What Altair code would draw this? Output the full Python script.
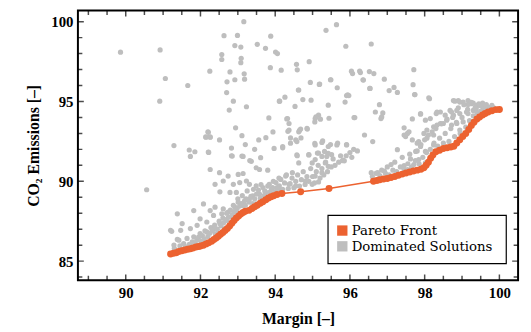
import altair as alt
import pandas as pd
import numpy as np

ORANGE = "#EC6230"
GRAY = "#BEBEBE"
FONT = "Liberation Serif"
LEG_FONT = "DejaVu Serif"

X_DOMAIN = [88.72, 100.5]
Y_DOMAIN = [83.8, 100.7]
X_TICKS = [90, 92, 94, 96, 98, 100]
Y_TICKS = [85, 90, 95, 100]

pareto_x = [91.2, 91.28, 91.35, 91.42, 91.5, 91.58, 91.66, 91.73, 91.8, 91.88, 91.95, 92.0, 92.08,
            92.15, 92.22, 92.3, 92.36, 92.42, 92.48, 92.54, 92.6, 92.66, 92.72, 92.78, 92.84, 92.9,
            92.96, 93.02, 93.08, 93.14, 93.2, 93.3, 93.38, 93.45, 93.52, 93.6, 93.67, 93.75, 93.82,
            93.89, 93.96, 94.05, 94.18, 94.68, 95.44, 96.63, 96.72, 96.8, 96.9, 97.0, 97.1, 97.2,
            97.3, 97.4, 97.5, 97.6, 97.7, 97.8, 97.9, 97.98, 98.04, 98.1, 98.16, 98.22, 98.3, 98.4,
            98.5, 98.6, 98.7, 98.78, 98.86, 98.94, 99.02, 99.1, 99.18, 99.25, 99.32, 99.4, 99.47,
            99.55, 99.62, 99.7, 99.8, 99.91, 100.0]
pareto_y = [85.45, 85.5, 85.52, 85.6, 85.65, 85.7, 85.75, 85.78, 85.82, 85.88, 85.92, 85.95, 86.0,
            86.08, 86.15, 86.25, 86.35, 86.45, 86.56, 86.68, 86.8, 86.92, 87.05, 87.2, 87.38, 87.55,
            87.7, 87.82, 87.95, 88.05, 88.12, 88.18, 88.3, 88.4, 88.5, 88.62, 88.72, 88.85, 88.95,
            89.03, 89.1, 89.18, 89.24, 89.34, 89.55, 90.0, 90.05, 90.1, 90.14, 90.18, 90.24, 90.3,
            90.38, 90.45, 90.52, 90.58, 90.64, 90.7, 90.76, 90.85, 91.0, 91.2, 91.45, 91.65, 91.85,
            91.95, 92.05, 92.1, 92.15, 92.2, 92.4, 92.6, 92.8, 93.0, 93.25, 93.5, 93.7, 93.9, 94.03,
            94.15, 94.25, 94.34, 94.42, 94.49, 94.5]

dominated_x = [
    89.86, 90.92, 91.06, 90.91, 91.29, 90.56, 91.23, 91.38, 91.66,
    93.16, 92.63, 92.99, 92.92, 93.08, 93.52, 93.74, 93.88, 94.01, 94.06, 92.57, 92.57, 93.09, 93.08,
    92.25, 92.79, 93.17, 93.18, 92.92, 92.71, 93.87, 94.16, 94.57, 94.59, 94.91, 94.94, 95.18, 95.48,
    95.66, 94.63, 92.7, 92.88, 92.77, 93.23, 94.12, 94.26, 94.74, 94.96, 94.53, 95.42, 95.94, 95.87,
    96.04, 95.89, 95.36, 95.64, 93.83, 94.31, 94.37, 95.07, 95.16, 95.44, 96.11, 92.94, 92.21, 92.14,
    92.26, 92.51, 93.11, 93.56, 93.75, 93.94, 94.34, 94.41, 94.65, 94.86, 94.69, 94.55, 95.06, 95.27,
    95.48, 95.67, 95.91, 91.7, 91.85, 92.21, 92.83, 93.2, 93.45, 93.97, 94.2, 92.85, 93.11, 93.32,
    93.61, 94.58, 94.9, 95.13, 95.42, 95.85, 95.07, 95.25, 95.32,
    96.57, 96.26, 96.52, 96.64, 96.35, 96.92, 97.71, 97.69, 96.53, 97.05, 97.18, 97.74, 98.13, 96.79,
    96.68, 96.88, 96.83, 96.13, 97.89, 97.67, 98.02, 98.15, 98.31, 98.42, 98.68, 98.77, 98.9, 99.03,
    99.16, 99.25, 99.38, 99.56, 99.69, 96.39, 96.61, 97.45, 97.58, 97.49, 97.67, 97.8, 97.89, 97.98,
    98.06, 98.24, 98.42, 98.59, 98.77, 98.94, 99.12, 99.3,
    97.27, 97.73, 98.11, 97.89, 98.33, 98.55, 98.72, 98.86, 98.81, 98.94, 99.16, 99.3, 99.47, 99.56,
    99.38, 99.16, 97.54, 97.45, 97.84, 98.06, 98.24, 98.33, 98.5, 98.72, 98.86, 99.03, 98.94, 98.24,
    98.02, 97.76, 97.27, 97.62, 97.84, 98.02, 97.71, 97.45, 97.54,
    94.37, 94.63, 94.2, 94.41, 94.58, 95.07, 95.25, 95.42, 95.65, 95.91, 94.59, 94.9, 95.16, 95.38,
    95.51, 95.82, 94.63, 94.99, 95.34, 95.42, 95.25, 95.07, 95.16, 94.99, 94.81, 94.46, 94.28, 94.15,
    94.37, 94.55, 94.11, 97.1, 96.57, 96.74, 96.92,
    91.73, 92.22, 92.83, 93.14, 93.36, 92.26, 92.51, 92.74, 93.01, 93.14, 93.49, 93.58, 93.8, 92.39,
    92.61, 92.52, 92.88, 93.05, 93.23, 92.79, 92.96, 93.31, 93.49, 93.67, 93.84, 93.93, 94.11, 94.02,
    91.38, 91.51, 91.82, 92.08, 92.26, 91.99, 92.39, 92.61, 91.2, 91.47, 91.73, 91.91, 92.17, 92.35,
    92.57, 92.74, 92.92, 93.01, 93.18, 93.31, 93.4, 93.58, 93.75, 93.93, 91.42, 91.64, 91.82, 91.99,
    92.17, 92.35, 92.52, 92.7, 92.83, 91.29, 92.44, 92.65, 92.96, 93.14, 93.49, 93.67,
    92.2, 92.15, 92.26, 96.07, 96.28, 96.36, 95.49, 95.19, 96.54, 94.62, 94.11, 95.91, 95.97, 96.85,
    94.33, 95.09, 95.06, 95.21, 94.68, 94.85,
    91.3, 91.45, 91.55, 91.6, 91.7, 91.78, 91.85, 91.9, 91.95, 92.02, 92.05, 92.1, 92.12, 92.2, 92.25,
    92.28, 92.32, 92.38, 92.4, 92.45, 92.5, 92.55, 92.6, 92.62, 92.68, 92.7, 92.75, 92.8, 92.85, 92.88,
    92.9, 92.98, 93.0, 93.05, 93.1, 93.12, 93.2, 93.22, 93.25, 93.3, 93.35, 93.4, 93.42, 93.45, 93.5,
    93.55, 93.6, 93.62, 93.7, 93.72, 93.78, 93.8, 93.85, 93.9, 93.95, 94.0, 94.05, 94.1, 94.2, 94.25,
    94.3, 94.35, 94.4, 94.45, 94.5, 94.55, 94.6, 94.65, 94.7, 94.75, 94.8, 94.85, 94.9, 94.95, 95.0,
    95.05, 95.1, 95.15, 95.2, 95.25, 95.3, 95.35, 95.4, 95.5, 95.55, 95.6, 95.7, 95.75, 95.8, 95.9,
    96.0, 96.05, 96.1, 96.2,
    96.6, 96.7, 96.8, 96.85, 96.95, 97.0, 97.05, 97.15, 97.2, 97.25, 97.35, 97.4, 97.45, 97.55, 97.6,
    97.65, 97.75, 97.8, 97.85, 97.9, 97.95, 98.0, 98.05, 98.1, 98.15, 98.2, 98.25, 98.3, 98.35, 98.4,
    98.45, 98.5, 98.55, 98.6, 98.65, 98.7, 98.75, 98.8, 98.85, 98.9, 98.95, 99.0, 99.05, 99.1, 99.15,
    99.2, 99.25, 99.3, 99.35, 99.4, 99.45, 99.5, 99.55, 99.6, 99.65, 99.75, 99.8, 99.85,
]
dominated_y = [
    98.09, 98.23, 96.44, 95.02, 92.24, 89.47, 86.87, 86.36, 96.0,
    100.0, 99.12, 99.14, 98.5, 98.41, 98.58, 98.33, 99.09, 98.1, 98.0, 97.94, 97.63, 97.7, 97.43,
    96.9, 96.85, 96.73, 96.4, 96.36, 96.23, 97.12, 96.96, 97.33, 96.98, 97.49, 96.19, 96.07, 96.36,
    95.86, 95.72, 95.56, 95.02, 94.46, 94.67, 95.02, 95.27, 95.12, 95.08, 94.69, 94.77, 95.41, 94.96,
    96.9, 98.46, 99.46, 99.81, 93.97, 93.91, 93.62, 93.93, 94.14, 93.95, 93.99, 93.35, 93.07, 92.78,
    92.78, 92.59, 92.86, 92.59, 92.73, 93.09, 93.13, 92.72, 93.19, 93.27, 92.72, 92.59, 92.37, 92.53,
    92.3, 92.39, 92.3, 91.96, 91.85, 91.83, 92.08, 92.3, 92.0, 92.06, 92.1, 91.58, 91.58, 91.3,
    91.48, 91.65, 91.65, 91.77, 91.75, 91.28, 91.36, 91.56, 91.87,
    98.6, 96.91, 96.87, 96.75, 96.36, 96.4, 96.99, 96.05, 95.82, 95.68, 95.88, 95.43, 95.17, 94.8,
    94.34, 94.28, 93.93, 93.99, 94.2, 93.91, 93.83, 93.93, 94.24, 94.34, 94.44, 95.06, 95.06, 94.96,
    95.06, 94.86, 94.75, 94.65, 94.65, 92.9, 92.49, 93.35, 93.1, 92.8, 92.59, 92.39, 92.18, 93.0,
    93.21, 93.41, 93.62, 93.83, 94.14, 94.24, 94.34, 94.44,
    95.57, 95.43, 95.23, 94.24, 94.34, 94.14, 94.34, 94.44, 95.02, 94.96, 94.81, 94.9, 94.75, 94.65,
    94.55, 94.24, 93.0, 92.9, 92.49, 92.7, 92.9, 93.52, 93.62, 93.52, 93.62, 93.72, 93.21, 92.28,
    91.87, 91.87, 91.98, 91.4, 91.36, 91.15, 91.05, 90.99, 90.74,
    93.21, 93.1, 92.18, 92.39, 92.49, 92.28, 92.43, 92.18, 92.28, 92.28, 91.6, 91.67, 91.77, 91.56,
    91.67, 91.32, 91.15, 91.15, 91.15, 90.94, 90.54, 90.33, 89.96, 89.81, 90.02, 90.54, 90.33, 90.12,
    89.81, 89.71, 89.71, 91.05, 90.54, 90.54, 90.64,
    91.56, 91.81, 91.6, 91.56, 91.25, 90.74, 90.54, 90.33, 90.43, 90.49, 90.85, 90.74, 90.7, 89.81,
    90.02, 89.34, 89.81, 89.92, 90.02, 89.3, 89.3, 89.81, 89.71, 89.61, 89.81, 89.61, 89.51, 89.92,
    87.96, 87.35, 88.17, 88.58, 88.17, 87.65, 88.38, 88.27, 86.93, 86.93, 87.04, 87.24, 87.45, 87.86,
    87.96, 88.07, 88.38, 88.69, 88.78, 88.89, 89.09, 89.2, 89.3, 89.2, 86.31, 86.42, 86.52, 86.73,
    86.83, 87.04, 87.35, 87.55, 87.76, 86.01, 86.73, 87.04, 88.07, 88.48, 88.58, 88.89,
    93.1, 92.76, 92.76, 96.75, 96.81, 96.34, 96.36, 96.09, 95.82, 95.72, 95.02, 95.37, 95.37, 94.03,
    93.93, 94.03, 93.72, 93.89, 93.27, 93.31,
    85.8, 85.95, 86.1, 85.9, 86.05, 86.2, 86.1, 86.3, 86.5, 86.25, 86.6, 86.4, 86.9, 86.55, 86.75,
    87.1, 86.9, 87.25, 86.7, 87.0, 87.5, 87.2, 87.7, 87.4, 87.6, 88.0, 87.75, 88.2, 87.9, 88.5,
    88.1, 88.3, 88.9, 88.45, 88.6, 89.1, 88.5, 88.9, 89.4, 88.7, 89.05, 88.6, 89.5, 88.9, 89.2,
    89.45, 88.95, 89.8, 89.1, 89.4, 89.0, 89.7, 89.3, 89.5, 90.0, 89.35, 89.6, 90.2, 89.5, 89.9,
    90.4, 89.55, 89.85, 90.2, 89.6, 90.0, 90.4, 89.7, 90.1, 90.6, 89.8, 90.3, 90.0, 90.8, 90.3,
    89.9, 90.6, 91.0, 90.2, 90.8, 90.4, 91.2, 90.6, 90.9, 91.4, 91.0, 91.2, 91.6, 91.3, 91.6,
    91.8, 91.5, 92.0, 91.9,
    90.3, 90.5, 90.35, 90.7, 90.5, 90.9, 90.4, 90.7, 91.2, 90.6, 90.9, 91.5, 90.75, 91.1, 91.7,
    90.9, 91.3, 91.9, 91.1, 92.3, 91.5, 92.6, 91.8, 92.9, 92.0, 93.1, 92.4, 93.3, 92.2, 92.7,
    93.6, 92.4, 93.0, 93.9, 92.5, 93.3, 94.0, 92.8, 93.7, 94.6, 93.0, 94.0, 94.8, 93.4, 94.5,
    93.8, 94.95, 94.1, 94.6, 94.3, 94.85, 94.4, 94.9, 94.5, 94.8, 94.6, 94.75, 94.6,
]

SERIES = ["Pareto Front", "Dominated Solutions"]
SERIES_COLORS = [ORANGE, GRAY]

dom = pd.DataFrame({"x": dominated_x, "y": dominated_y})
par = pd.DataFrame({"x": pareto_x, "y": pareto_y})

xs = alt.Scale(domain=X_DOMAIN, nice=False, zero=False)
ys = alt.Scale(domain=Y_DOMAIN, nice=False, zero=False)

x_axis = alt.Axis(values=X_TICKS, ticks=False, domain=False, grid=False, title="Margin [–]",
                  labelFont=FONT, labelFontSize=15, labelFontWeight="bold", labelColor="black",
                  labelPadding=5, titleFont=FONT, titleFontSize=16, titleFontWeight="bold",
                  titleColor="black", titlePadding=11)
y_axis = alt.Axis(values=Y_TICKS, ticks=False, domain=False, grid=False, title="CO₂ Emissions [–]",
                  labelFont=FONT, labelFontSize=15, labelFontWeight="bold", labelColor="black",
                  labelPadding=5, titleFont=FONT, titleFontSize=16, titleFontWeight="bold",
                  titleColor="black", titlePadding=10)

gray_layer = alt.Chart(dom).mark_circle(size=28, opacity=1, color=GRAY).encode(
    x=alt.X("x:Q", scale=xs, axis=x_axis),
    y=alt.Y("y:Q", scale=ys, axis=y_axis),
)
line_layer = alt.Chart(par).mark_line(color=ORANGE, strokeWidth=1.5).encode(
    x=alt.X("x:Q", scale=xs), y=alt.Y("y:Q", scale=ys), order="x:Q")
pareto_layer = alt.Chart(par).mark_circle(size=50, opacity=1, color=ORANGE).encode(
    x=alt.X("x:Q", scale=xs), y=alt.Y("y:Q", scale=ys))

# inward tick marks on all four sides
xt_major = np.arange(90, 100.01, 2.0)
xt_minor = np.array([v for v in np.arange(89.0, 100.01, 0.5) if v not in xt_major])
yt_major = np.array(Y_TICKS, dtype=float)
yt_minor = np.array([v for v in np.arange(84.0, 100.01, 1.0) if v not in yt_major])

def xticks(vals, length):
    df = pd.DataFrame({"x": np.concatenate([vals, vals]),
                       "y": [Y_DOMAIN[0]] * len(vals) + [Y_DOMAIN[1]] * len(vals)})
    return alt.Chart(df).mark_tick(orient="vertical", size=length, thickness=1.5,
                                   color="black", clip=True).encode(
        x=alt.X("x:Q", scale=xs), y=alt.Y("y:Q", scale=ys))

def yticks(vals, length):
    df = pd.DataFrame({"y": np.concatenate([vals, vals]),
                       "x": [X_DOMAIN[0]] * len(vals) + [X_DOMAIN[1]] * len(vals)})
    return alt.Chart(df).mark_tick(orient="horizontal", size=length, thickness=1.5,
                                   color="black", clip=True).encode(
        x=alt.X("x:Q", scale=xs), y=alt.Y("y:Q", scale=ys))

# legend drawn as a small guide block (box, swatches, labels)
leg_df = pd.DataFrame({"label": SERIES, "color": SERIES_COLORS})
legend_box = alt.Chart(leg_df.head(1)).mark_rect(fill="white", stroke="black", strokeWidth=1.2).encode(
    x=alt.value(254), x2=alt.value(435), y=alt.value(208), y2=alt.value(257))
legend_parts = []
for i, (lab, col) in enumerate(zip(SERIES, SERIES_COLORS)):
    row = leg_df.iloc[[i]]
    cy = 223.5 + 16 * i
    legend_parts.append(alt.Chart(row).mark_square(size=110, opacity=1, color=col).encode(
        x=alt.value(268.5), y=alt.value(cy)))
    legend_parts.append(alt.Chart(row).mark_text(
        align="left", baseline="middle", font=LEG_FONT, fontSize=13.5,
        color="black").encode(
        x=alt.value(278), y=alt.value(cy + 0.5), text="label:N"))

chart = alt.layer(
    gray_layer, line_layer, pareto_layer,
    xticks(xt_major, 12), xticks(xt_minor, 9), yticks(yt_major, 12), yticks(yt_minor, 9),
    legend_box, *legend_parts,
).properties(
    width=447, height=274,
    autosize=alt.AutoSizeParams(type="none"),
    padding={"left": 71, "top": 0, "right": 5, "bottom": 50},
).configure(background="white").configure_text(font=LEG_FONT).configure_view(
    stroke="black", strokeWidth=2)

chart.save("out.html", embed_options={"renderer": "svg", "actions": False})
